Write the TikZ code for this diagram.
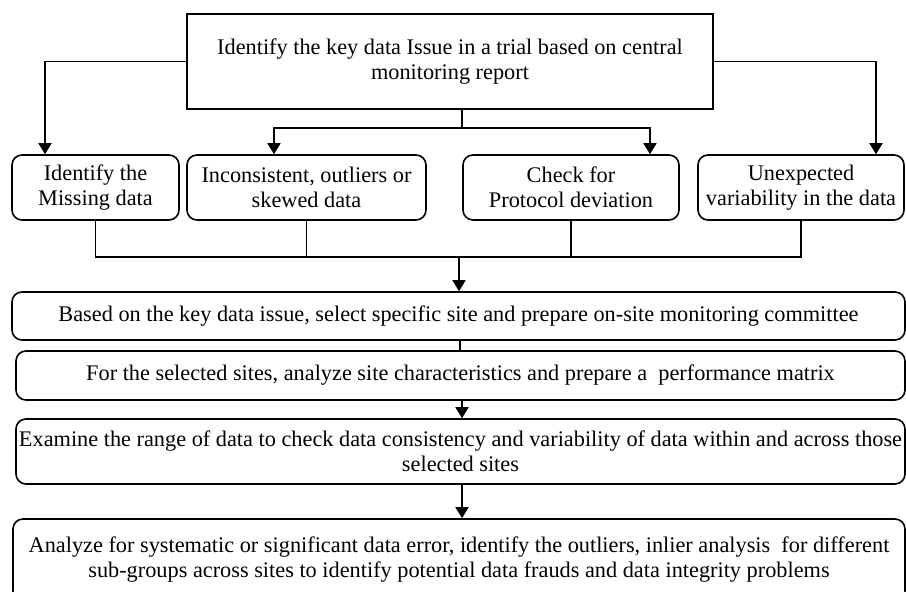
\documentclass[tikz,border=0pt]{standalone}
\usepackage{fontspec}
\setmainfont{Liberation Serif}
\usetikzlibrary{arrows.meta,calc}

\begin{document}
\begin{tikzpicture}[x=0.5pt,y=-0.5pt,
  line width=0.8pt,
  font=\fontsize{11.15}{12.5}\selectfont,
  issue/.style={draw,rectangle,align=center,inner sep=0pt},
  stage/.style={draw,rectangle,rounded corners=5pt,align=center,inner sep=0pt},
  arr/.style={-{Triangle[width=6.5pt,length=5.5pt]}}]
\useasboundingbox (0,0) rectangle (906,592);
% top box
\node [issue,minimum width=263pt,minimum height=47.5pt] (top) at (450,61.5)
  {Identify the key data Issue in a trial based on central\\monitoring report};
% the four kinds of issue
\node [stage,minimum width=83.5pt,minimum height=32.5pt] (miss) at (95.5,187.5)
  {Identify the\\Missing data};
\node [stage,minimum width=119.5pt,minimum height=32.5pt] (incon) at (306.5,187.5)
  {Inconsistent, outliers or\\skewed data};
\node [stage,minimum width=108pt,minimum height=32.5pt] (proto) at (571,187.5)
  {Check for\\Protocol deviation};
\node [stage,minimum width=103pt,minimum height=32.5pt] (var) at (801,187.5)
  {Unexpected\\variability in the data};
% steps
\node [stage,minimum width=446.5pt,minimum height=24pt] (select) at (458.5,316)
  {Based on the key data issue, select specific site and prepare on-site monitoring committee};
\node [stage,minimum width=444.5pt,minimum height=24.5pt] (perf) at (460.5,375.5)
  {For the selected sites, analyze site characteristics and prepare a\ \ performance matrix};
\node [stage,minimum width=444.5pt,minimum height=32.5pt] (exam) at (460.5,451.5)
  {Examine the range of data to check data consistency and variability of data within and across those\\selected sites};
\node [stage,minimum width=446pt,minimum height=41pt] (anal) at (459,560)
  {Analyze for systematic or significant data error, identify the outliers, inlier analysis\ \ for different\\sub-groups across sites to identify potential data frauds and data integrity problems};

\coordinate (split) at (462,128);
\coordinate (merge) at (459,257);

\draw [arr] (top.west) -| ([xshift=-25.25pt]miss.north);
\draw [arr] (top.east) -| ([xshift=37.5pt]var.north);
\draw ([xshift=6pt]top.south) -- (split);
\draw [arr] (split) -| ([xshift=-16.25pt]incon.north);
\draw [arr] (split) -| ([xshift=39.5pt]proto.north);
\foreach \n in {miss,incon,proto,var}
  \draw (\n.south) |- (merge);
\draw [arr] (merge) -- (merge |- select.north);
\draw ([xshift=0.75pt]select.south) -- ([xshift=0.75pt]select.south |- perf.north);
\draw [arr] ([xshift=0.75pt]perf.south) -- ([xshift=0.75pt]perf.south |- exam.north);
\draw [arr] ([xshift=0.75pt]exam.south) -- ([xshift=0.75pt]exam.south |- anal.north);
\end{tikzpicture}
\end{document}
